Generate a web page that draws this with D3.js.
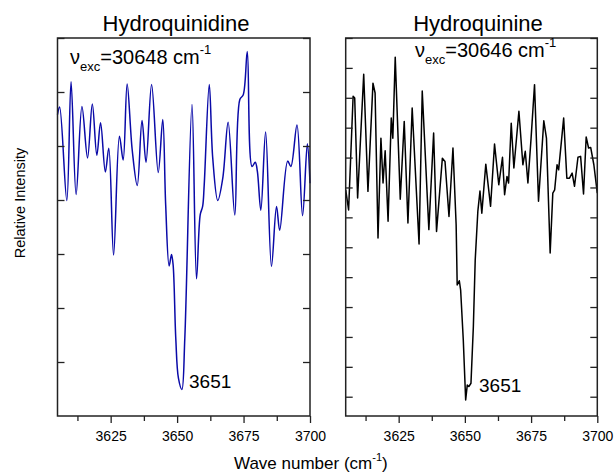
<!DOCTYPE html>
<html>
<head>
<meta charset="utf-8">
<script src="https://cdn.jsdelivr.net/npm/d3@7"></script>
<style>
  body { margin: 0; background: #fff; }
  text { font-family: "Liberation Sans", Arial, sans-serif; fill: #000; }
</style>
</head>
<body>
<div id="chart"></div>
<script>
// wave numbers (cm-1) and relative intensity
var hqdWn = [3605.0, 3605.8, 3608.5, 3610.1, 3612.0, 3614.2, 3616.3, 3618.1, 3619.8, 3621.2,
             3623.0, 3624.3, 3626.1, 3628.3, 3629.7, 3631.2, 3633.1, 3635.0, 3636.8, 3638.3,
             3640.4, 3642.9, 3644.6, 3645.7, 3647.0, 3647.9, 3648.5, 3649.5, 3650.5, 3651.8,
             3652.9, 3655.6, 3657.3, 3658.7, 3659.6, 3660.2, 3662.1, 3663.4, 3665.3, 3667.2,
             3669.2, 3671.7, 3673.6, 3674.9, 3676.4, 3678.2, 3679.4, 3680.2, 3681.5, 3683.3,
             3685.5, 3687.4, 3688.6, 3691.6, 3692.8, 3695.1, 3697.2, 3699.0, 3700.0];
var hqdInt = [5.58, 5.72, 3.99, 6.19, 4.10, 5.73, 4.78, 5.78, 4.83, 5.43,
              4.52, 4.96, 2.98, 5.18, 4.74, 6.15, 4.93, 4.27, 5.47, 4.70,
              6.14, 4.51, 5.49, 3.91, 2.78, 2.99, 2.80, 1.44, 0.70, 0.49,
              1.44, 5.77, 2.54, 3.73, 3.88, 4.28, 6.14, 4.78, 3.99, 4.41,
              5.44, 3.72, 5.86, 5.95, 6.75, 4.62, 4.70, 4.53, 3.81, 5.26,
              2.77, 3.88, 3.44, 4.72, 4.62, 5.39, 3.71, 5.04, 4.31];

var hqnWn = [3605.0, 3606.1, 3607.8, 3608.4, 3609.5, 3611.8, 3613.4, 3615.3, 3616.1, 3617.2,
             3618.3, 3619.1, 3619.9, 3621.0, 3622.2, 3622.8, 3623.7, 3625.6, 3627.1, 3628.5,
             3630.1, 3632.7, 3633.9, 3636.4, 3638.2, 3639.3, 3641.5, 3642.5, 3644.0, 3645.5,
             3646.7, 3647.1, 3647.9, 3648.4, 3649.4, 3650.3, 3650.9, 3651.5, 3652.3, 3653.2,
             3653.9, 3654.9, 3655.7, 3656.4, 3657.9, 3659.7, 3661.2, 3662.8, 3664.2, 3665.0,
             3665.9, 3666.5, 3667.5, 3668.5, 3670.4, 3671.9, 3672.8, 3673.8, 3675.0, 3676.3,
             3677.8, 3679.8, 3680.8, 3682.2, 3683.2, 3683.9, 3684.8, 3685.4, 3687.3, 3688.5,
             3689.5, 3690.5, 3691.4, 3692.7, 3693.7, 3694.8, 3695.8, 3696.7, 3697.5, 3698.7,
             3700.0];
var hqnInt = [7.92, 7.25, 11.05, 10.99, 7.65, 11.79, 7.87, 11.49, 11.16, 6.31,
              9.65, 8.15, 9.23, 6.87, 10.32, 9.65, 12.36, 7.61, 10.21, 6.81,
              10.66, 6.11, 11.23, 6.59, 9.82, 6.53, 8.98, 8.87, 7.03, 9.32,
              6.75, 4.74, 4.88, 4.57, 2.90, 0.89, 1.39, 1.34, 1.45, 3.34,
              5.57, 7.21, 7.88, 7.14, 8.78, 7.37, 9.45, 8.09, 9.01, 7.76,
              8.37, 8.15, 10.15, 8.65, 10.55, 8.76, 9.21, 8.15, 9.65, 11.44,
              7.54, 10.23, 9.65, 5.81, 7.81, 7.92, 8.76, 8.59, 10.32, 8.31,
              8.31, 8.48, 8.04, 9.01, 9.04, 7.78, 9.69, 9.32, 9.34, 8.76,
              7.81];

var xMajor = [3625, 3650, 3675, 3700];
var xMinor = [3612.5, 3637.5, 3662.5, 3687.5];
var hqdYTicks = [1, 2, 3, 4, 5, 6, 7];
var hqnYTicks = [1, 2, 3, 4, 5, 6, 7, 8, 9, 10, 11, 12, 13];
var titles = ["Hydroquinidine", "Hydroquinine"];
var excValues = ["30648", "30646"];
var peakLabel = "3651";

var W = 615, H = 473, top0 = 38, bottom0 = 416;

var svg = d3.select("#chart").append("svg")
    .attr("width", W)
    .attr("height", H);

function drawPanel(p) {
    var x = d3.scaleLinear().domain([3605, 3700]).range([p.left, p.right]),
        y = d3.scaleLinear().domain(p.yDomain).range([bottom0, top0]);

    var g = svg.append("g");

    var line = d3.line()
        .x(function(d) { return x(d[0]); })
        .y(function(d) { return y(d[1]); })
        .curve(p.curve);

    var pts = p.wn.map(function(w, i) { return [w, p.vals[i]]; });

    g.append("path")
        .datum(pts)
        .attr("fill", "none")
        .attr("stroke", p.color)
        .attr("stroke-width", 1.5)
        .attr("stroke-linejoin", "round")
        .attr("d", line);

    // bottom axis: major ticks with labels, minor without
    var xa = g.append("g")
        .attr("transform", "translate(0," + bottom0 + ")")
        .call(d3.axisBottom(x).tickValues(xMajor).tickFormat(d3.format("d"))
            .tickSizeInner(7).tickSizeOuter(0).tickPadding(8));
    xa.selectAll("text").style("font-size", "14px").attr("fill", "#111");
    g.append("g")
        .attr("transform", "translate(0," + bottom0 + ")")
        .call(d3.axisBottom(x).tickValues(xMinor).tickSize(5).tickFormat(""));

    // y ticks pointing inward on both sides, no labels
    g.append("g")
        .attr("transform", "translate(" + p.left + ",0)")
        .call(d3.axisLeft(y).tickValues(p.yTicks).tickSizeInner(-7).tickSizeOuter(0).tickFormat(""));
    g.append("g")
        .attr("transform", "translate(" + p.right + ",0)")
        .call(d3.axisRight(y).tickValues(p.yTicks).tickSizeInner(-7).tickSizeOuter(0).tickFormat(""));

    g.selectAll(".domain").remove();
    g.selectAll(".tick line").attr("stroke", "#222").attr("stroke-width", 1.3);

    g.append("rect")
        .attr("x", p.left).attr("y", top0)
        .attr("width", p.right - p.left).attr("height", bottom0 - top0)
        .attr("fill", "none").attr("stroke", "#222").attr("stroke-width", 1.5);

    g.append("text")
        .attr("x", p.titleX).attr("y", p.titleY)
        .attr("text-anchor", "middle")
        .style("font-size", "22px")
        .text(p.title);

    var ex = g.append("text")
        .attr("x", p.excX).attr("y", p.excY)
        .style("font-size", "20px");
    ex.append("tspan").text("\u03bd");
    ex.append("tspan").attr("dy", 7).style("font-size", "13px").text("exc");
    ex.append("tspan").attr("dy", -7).text("=" + p.exc + " cm");
    ex.append("tspan").attr("dy", -10).style("font-size", "13px").text("-1");

    g.append("text")
        .attr("x", p.peakX).attr("y", p.peakY)
        .style("font-size", "19px")
        .text(peakLabel);
}

drawPanel({left: 57.5, right: 310, wn: hqdWn, vals: hqdInt, yDomain: [0, 7], yTicks: hqdYTicks,
           color: "#0a0aa8", curve: d3.curveCatmullRom.alpha(0.5),
           title: titles[0], titleX: 176, titleY: 31,
           exc: excValues[0], excX: 70, excY: 64, peakX: 189, peakY: 388});

drawPanel({left: 345.7, right: 597.3, wn: hqnWn, vals: hqnInt, yDomain: [0.355, 13], yTicks: hqnYTicks,
           color: "#000", curve: d3.curveLinear,
           title: titles[1], titleX: 478, titleY: 31,
           exc: excValues[1], excX: 415, excY: 57, peakX: 479, peakY: 392});

// shared axis titles
var xl = svg.append("text")
    .attr("x", 234).attr("y", 469)
    .style("font-size", "17px");
xl.append("tspan").text("Wave number (cm");
xl.append("tspan").attr("dy", -8).style("font-size", "11px").text("-1");
xl.append("tspan").attr("dy", 8).text(")");

svg.append("text")
    .attr("transform", "translate(25,203) rotate(-90)")
    .attr("text-anchor", "middle")
    .style("font-size", "14.5px")
    .text("Relative Intensity");
</script>
</body>
</html>
